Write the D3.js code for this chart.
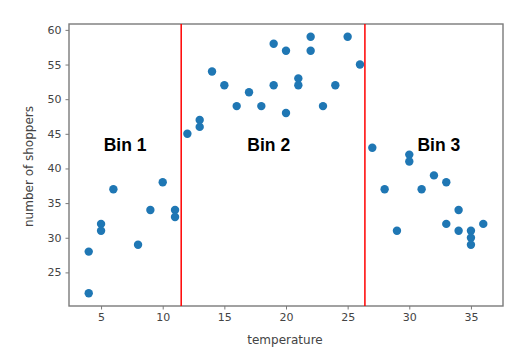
<!DOCTYPE html>
<html>
<head>
<meta charset="utf-8">
<script src="https://cdn.jsdelivr.net/npm/d3@7"></script>
<style>
  html, body { margin: 0; padding: 0; background: #fff; }
  svg { display: block; }
</style>
</head>
<body>
<svg id="chart" width="518" height="352"></svg>
<script>
const temperature = [4, 4, 5, 5, 6, 8, 9, 10, 11, 11,
  12, 13, 13, 14, 15, 16, 17, 18, 19, 19, 20, 20, 21, 21, 22, 22, 23, 24, 25, 26,
  27, 28, 29, 30, 30, 31, 32, 33, 33, 34, 34, 35, 35, 35, 36];
const shoppers = [28, 22, 32, 31, 37, 29, 34, 38, 34, 33,
  45, 47, 46, 54, 52, 49, 51, 49, 58, 52, 57, 48, 53, 52, 59, 57, 49, 52, 59, 55,
  43, 37, 31, 42, 41, 37, 39, 38, 32, 34, 31, 31, 30, 29, 32];
const binEdges = [11.5, 26.4];
const binLabels = ["Bin 1", "Bin 2", "Bin 3"];
const binLabelX = [6.95, 18.6, 32.4];
const binLabelY = 43.15;
const xTicks = [5, 10, 15, 20, 25, 30, 35];
const yTicks = [25, 30, 35, 40, 45, 50, 55, 60];

const svg = d3.select("#chart");
const L = 69, R = 503, T = 24, B = 306;
const x = d3.scaleLinear().domain([2.4, 37.6]).range([L, R]);
const y = d3.scaleLinear().domain([20.15, 60.85]).range([B, T]);
const textColor = "#444";
const frameColor = "#7a7a7a";

// axes
const xAxis = svg.append("g").attr("transform", `translate(0,${B})`)
  .call(d3.axisBottom(x).tickValues(xTicks).tickSize(3.5).tickPadding(4).tickFormat(d3.format("d")));
const yAxis = svg.append("g").attr("transform", `translate(${L},0)`)
  .call(d3.axisLeft(y).tickValues(yTicks).tickSize(3.5).tickPadding(4).tickFormat(d3.format("d")));
[xAxis, yAxis].forEach(g => {
  g.select(".domain").remove();
  g.selectAll(".tick line").attr("stroke", frameColor).attr("stroke-width", 1);
  g.selectAll(".tick text").attr("fill", textColor)
    .style("font-family", "DejaVu Sans, sans-serif").style("font-size", "11px");
});

// frame
svg.append("rect").attr("x", L).attr("y", T).attr("width", R - L).attr("height", B - T)
  .attr("fill", "none").attr("stroke", frameColor).attr("stroke-width", 1.4);

// points
svg.append("g").selectAll("circle").data(temperature.map((t, i) => [t, shoppers[i]]))
  .join("circle")
  .attr("cx", d => x(d[0])).attr("cy", d => y(d[1])).attr("r", 4.2)
  .attr("fill", "#1f77b4");

// bin edges
svg.append("g").selectAll("line").data(binEdges).join("line")
  .attr("x1", d => x(d)).attr("x2", d => x(d)).attr("y1", T).attr("y2", B)
  .attr("stroke", "#ff0000").attr("stroke-width", 1.5);

// bin labels
svg.append("g").selectAll("text").data(binLabels).join("text")
  .attr("x", (d, i) => x(binLabelX[i])).attr("y", y(binLabelY))
  .attr("text-anchor", "middle").attr("dominant-baseline", "middle")
  .style("font-family", "Liberation Sans, Arial, sans-serif")
  .style("font-weight", "bold").style("font-size", "17.5px")
  .attr("fill", "#000").text(d => d);

// axis labels
svg.append("text").attr("x", 285).attr("y", 344)
  .attr("text-anchor", "middle").attr("fill", textColor)
  .style("font-family", "DejaVu Sans, sans-serif").style("font-size", "12px")
  .text("temperature");
svg.append("text").attr("transform", `translate(33,${(T + B) / 2 + 1.5}) rotate(-90)`)
  .attr("text-anchor", "middle").attr("fill", textColor)
  .style("font-family", "DejaVu Sans, sans-serif").style("font-size", "12px")
  .text("number of shoppers");
</script>
</body>
</html>
